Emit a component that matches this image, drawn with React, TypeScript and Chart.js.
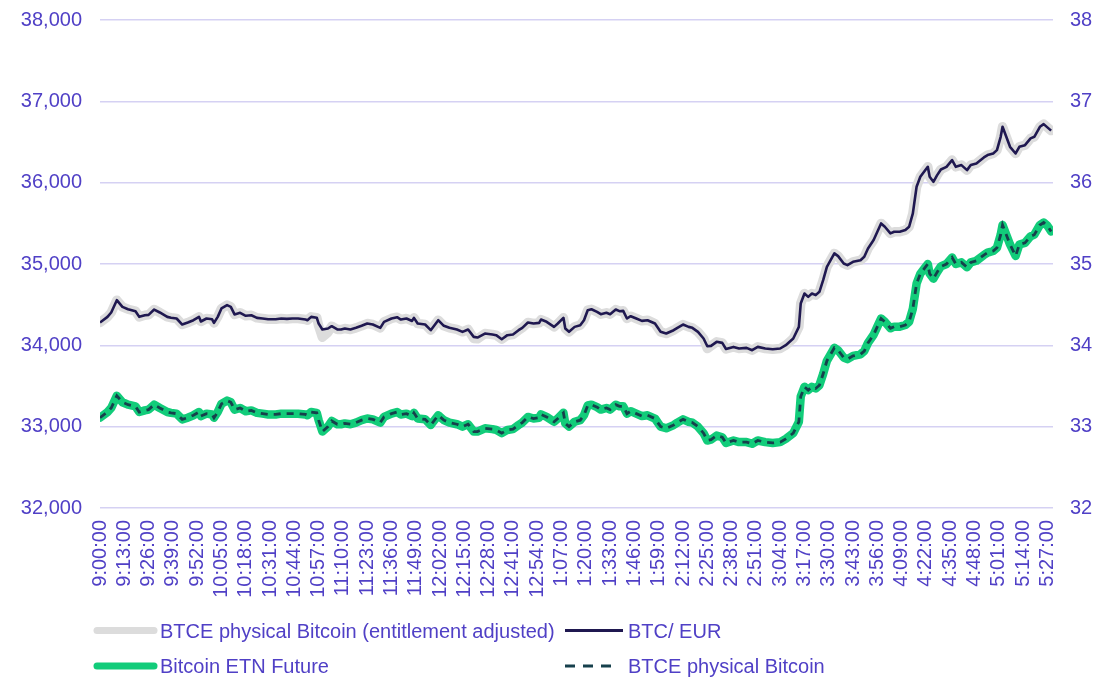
import React, { useEffect, useRef } from "react";
import { Chart, registerables } from "chart.js";

Chart.register(...registerables);

// X axis tick labels (every 13 minutes from 9:00)
const timeLabels = [
  "9:00:00", "9:13:00", "9:26:00", "9:39:00", "9:52:00", "10:05:00", "10:18:00", "10:31:00",
  "10:44:00", "10:57:00", "11:10:00", "11:23:00", "11:36:00", "11:49:00", "12:02:00", "12:15:00",
  "12:28:00", "12:41:00", "12:54:00", "1:07:00", "1:20:00", "1:33:00", "1:46:00", "1:59:00",
  "2:12:00", "2:25:00", "2:38:00", "2:51:00", "3:04:00", "3:17:00", "3:30:00", "3:43:00",
  "3:56:00", "4:09:00", "4:22:00", "4:35:00", "4:48:00", "5:01:00", "5:14:00", "5:27:00",
];
const tickMinutes = [
  0, 13, 26, 39, 52, 65, 78, 91, 104, 117, 130, 143, 156, 169, 182, 195, 208, 221, 234, 247,
  260, 273, 286, 299, 312, 325, 338, 351, 364, 377, 390, 403, 416, 429, 442, 455, 468, 481, 494, 507,
];

// Sample times (minutes after 9:00)
const sampleMinutes = [
  0, 4, 6, 9, 12, 15, 19, 21, 24, 26, 29, 32, 36, 38, 41, 44, 47, 50, 53, 54,
  57, 60, 61, 63, 65, 68, 70, 72, 75, 78, 81, 84, 87, 90, 94, 97, 100, 103, 106, 110,
  111, 113, 116, 117, 119, 122, 124, 127, 129, 131, 134, 137, 140, 143, 146, 150, 152, 156, 159, 161,
  164, 167, 168, 170, 174, 177, 181, 184, 187, 191, 194, 197, 200, 202, 206, 210, 212, 215, 218, 221,
  224, 226, 229, 232, 235, 236, 239, 243, 245, 248, 249, 251, 254, 257, 259, 261, 263, 266, 268, 271,
  273, 276, 278, 280, 282, 284, 287, 290, 293, 297, 300, 303, 307, 309, 312, 315, 317, 320, 323, 325,
  327, 330, 333, 335, 339, 342, 346, 349, 352, 356, 360, 364, 367, 371, 374, 375, 377, 379, 381, 383,
  385, 387, 389, 391, 393, 395, 398, 400, 403, 407, 409, 411, 414, 416, 418, 420, 423, 425, 428, 431,
  433, 435, 437, 439, 441, 443, 444, 446, 448, 450, 453, 456, 458, 461, 464, 466, 469, 473, 475, 478,
  480, 482, 483, 485, 487, 490, 492, 495, 498, 500, 503, 505, 507, 509,
];

// BTC/ EUR (left axis)
const btcEur = [
  34280, 34350, 34404, 34555, 34473, 34444, 34420, 34350, 34370, 34375, 34440, 34404, 34350, 34340, 34330, 34256, 34280, 34309, 34350, 34293,
  34330, 34320, 34276, 34350, 34453, 34494, 34473, 34380, 34400, 34363, 34370, 34338, 34330, 34320, 34320, 34330, 34325, 34330, 34330, 34317,
  34309, 34350, 34340, 34268, 34195, 34207, 34235, 34195, 34195, 34207, 34195, 34215, 34240, 34268, 34256, 34215, 34289, 34330, 34346, 34317,
  34330, 34300, 34338, 34268, 34256, 34186, 34309, 34240, 34215, 34195, 34166, 34195, 34104, 34096, 34145, 34133, 34125, 34075, 34125, 34133,
  34186, 34215, 34281, 34268, 34276, 34317, 34289, 34227, 34268, 34338, 34207, 34166, 34227, 34248, 34309, 34432, 34444, 34412, 34383, 34400,
  34383, 34440, 34420, 34424, 34330, 34358, 34330, 34301, 34309, 34268, 34166, 34145, 34186, 34215, 34256, 34227, 34215, 34166, 34084, 33989,
  33993, 34043, 34030, 33955, 33981, 33961, 33969, 33940, 33981, 33961, 33952, 33961, 34002, 34084, 34227, 34514, 34637, 34596, 34637, 34617,
  34658, 34801, 34965, 35047, 35130, 35097, 35006, 34986, 35027, 35047, 35088, 35191, 35294, 35396, 35499, 35458, 35376, 35396, 35396, 35417,
  35458, 35622, 35950, 36072, 36134, 36195, 36072, 36011, 36093, 36162, 36195, 36278, 36195, 36216, 36154, 36216, 36236, 36310, 36339, 36359,
  36400, 36564, 36687, 36564, 36441, 36359, 36441, 36461, 36544, 36564, 36687, 36720, 36680, 36640,
];

// BTCE physical Bitcoin (entitlement adjusted) (left axis)
const btceAdjusted = [
  34280, 34350, 34404, 34555, 34473, 34444, 34420, 34350, 34370, 34375, 34440, 34404, 34350, 34340, 34330, 34256, 34280, 34309, 34350, 34293,
  34330, 34320, 34276, 34350, 34453, 34494, 34473, 34380, 34400, 34363, 34370, 34338, 34330, 34320, 34320, 34330, 34325, 34330, 34330, 34317,
  34309, 34350, 34340, 34240, 34100, 34160, 34235, 34195, 34195, 34207, 34195, 34215, 34240, 34268, 34256, 34215, 34289, 34330, 34346, 34317,
  34330, 34300, 34338, 34268, 34256, 34186, 34309, 34240, 34215, 34195, 34166, 34195, 34085, 34080, 34145, 34133, 34125, 34075, 34125, 34133,
  34186, 34215, 34281, 34268, 34276, 34317, 34289, 34227, 34268, 34338, 34207, 34166, 34227, 34248, 34309, 34432, 34444, 34412, 34383, 34400,
  34383, 34440, 34420, 34424, 34330, 34358, 34330, 34301, 34309, 34268, 34166, 34145, 34186, 34215, 34256, 34227, 34215, 34166, 34084, 33960,
  33993, 34043, 34030, 33955, 33981, 33961, 33969, 33940, 33981, 33961, 33952, 33961, 34002, 34084, 34227, 34514, 34637, 34596, 34637, 34617,
  34658, 34801, 34965, 35047, 35130, 35097, 35006, 34986, 35027, 35047, 35088, 35191, 35294, 35396, 35499, 35458, 35376, 35396, 35396, 35417,
  35458, 35622, 35950, 36072, 36134, 36195, 36072, 36011, 36093, 36162, 36195, 36278, 36195, 36216, 36154, 36216, 36236, 36310, 36339, 36359,
  36400, 36564, 36687, 36564, 36441, 36359, 36441, 36461, 36544, 36564, 36687, 36720, 36680, 36640,
];

// Bitcoin ETN Future (right axis, thousands)
const etnFuture = [
  33.11, 33.18, 33.23, 33.38, 33.30, 33.27, 33.25, 33.18, 33.20, 33.21, 33.27, 33.23, 33.18, 33.17, 33.16, 33.09, 33.11, 33.14, 33.18, 33.13,
  33.16, 33.15, 33.11, 33.18, 33.28, 33.32, 33.30, 33.21, 33.23, 33.19, 33.20, 33.17, 33.16, 33.15, 33.15, 33.16, 33.16, 33.16, 33.16, 33.15,
  33.14, 33.18, 33.17, 33.08, 32.94, 33.00, 33.07, 33.03, 33.03, 33.04, 33.03, 33.05, 33.08, 33.10, 33.09, 33.05, 33.12, 33.16, 33.18, 33.15,
  33.16, 33.13, 33.17, 33.10, 33.09, 33.02, 33.14, 33.08, 33.05, 33.03, 33.00, 33.03, 32.94, 32.94, 32.98, 32.97, 32.96, 32.92, 32.96, 32.97,
  33.02, 33.05, 33.12, 33.10, 33.11, 33.15, 33.12, 33.06, 33.10, 33.17, 33.04, 33.00, 33.06, 33.08, 33.14, 33.26, 33.27, 33.24, 33.21, 33.23,
  33.21, 33.27, 33.25, 33.25, 33.16, 33.19, 33.16, 33.13, 33.14, 33.10, 33.00, 32.98, 33.02, 33.05, 33.09, 33.06, 33.05, 33.00, 32.92, 32.83,
  32.84, 32.89, 32.87, 32.80, 32.83, 32.81, 32.81, 32.79, 32.83, 32.81, 32.80, 32.81, 32.85, 32.92, 33.06, 33.37, 33.49, 33.45, 33.49, 33.47,
  33.51, 33.65, 33.81, 33.89, 33.97, 33.94, 33.85, 33.83, 33.87, 33.89, 33.93, 34.03, 34.13, 34.23, 34.33, 34.29, 34.21, 34.23, 34.23, 34.25,
  34.29, 34.45, 34.76, 34.88, 34.94, 35.00, 34.88, 34.82, 34.90, 34.97, 35.00, 35.08, 35.00, 35.02, 34.96, 35.02, 35.04, 35.11, 35.14, 35.16,
  35.20, 35.36, 35.48, 35.36, 35.24, 35.10, 35.24, 35.26, 35.34, 35.36, 35.48, 35.51, 35.47, 35.40,
];

// BTCE physical Bitcoin (right axis, thousands) — drawn on top of the ETN line
const btcePhysical = [...etnFuture];

const leftTicks = { min: 32000, max: 38000, step: 1000 };
const rightTicks = { min: 32, max: 38, step: 1 };

const FONT = '"Liberation Sans", Arial, Helvetica, sans-serif';
const TEXT_COLOR = "#5040c6";
const GRID_COLOR = "#d5d1f3";

const COLORS = {
  gray: "#dcdcdc",
  navy: "#1f1850",
  green: "#12cc7a",
  dashed: "#16404c",
};

const legendItems = [
  { label: "BTCE physical Bitcoin (entitlement adjusted)", color: COLORS.gray, width: 7, dash: [] as number[], cap: "round", x0: 89, x1: 146, tx: 152, ly: 622.5, ty: 629.5 },
  { label: "BTC/ EUR", color: COLORS.navy, width: 3, dash: [] as number[], cap: "butt", x0: 557, x1: 615, tx: 620, ly: 622.5, ty: 629.5 },
  { label: "Bitcoin ETN Future", color: COLORS.green, width: 7, dash: [] as number[], cap: "round", x0: 89, x1: 146, tx: 152, ly: 658, ty: 665 },
  { label: "BTCE physical Bitcoin", color: COLORS.dashed, width: 3, dash: [10, 8], cap: "butt", x0: 557, x1: 607, tx: 620, ly: 658, ty: 665 },
];

const legendPlugin = {
  id: "customLegend",
  afterDraw(chart: any) {
    const ctx = chart.ctx as CanvasRenderingContext2D;
    ctx.save();
    for (const it of legendItems) {
      ctx.beginPath();
      ctx.strokeStyle = it.color;
      ctx.lineWidth = it.width;
      ctx.lineCap = it.cap as CanvasLineCap;
      ctx.setLineDash(it.dash);
      ctx.moveTo(it.x0, it.ly);
      ctx.lineTo(it.x1, it.ly);
      ctx.stroke();
      ctx.setLineDash([]);
      ctx.fillStyle = TEXT_COLOR;
      ctx.font = `20px ${FONT}`;
      ctx.textAlign = "left";
      ctx.textBaseline = "alphabetic";
      ctx.fillText(it.label, it.tx, it.ty);
    }
    ctx.restore();
  },
};

function toPoints(xs: number[], ys: number[]) {
  return xs.map((x, i) => ({ x, y: ys[i] }));
}

export default function App() {
  const canvasRef = useRef<HTMLCanvasElement | null>(null);

  useEffect(() => {
    if (!canvasRef.current) return;
    const chart = new Chart(canvasRef.current, {
      type: "line",
      data: {
        datasets: [
          {
            label: "BTC/ EUR",
            data: toPoints(sampleMinutes, btcEur),
            yAxisID: "y",
            borderColor: COLORS.navy,
            borderWidth: 2.6,
            pointRadius: 0,
            tension: 0,
            order: 0,
            borderJoinStyle: "round",
          },
          {
            label: "BTCE physical Bitcoin",
            data: toPoints(sampleMinutes, btcePhysical),
            yAxisID: "y1",
            borderColor: COLORS.dashed,
            borderWidth: 2.8,
            borderDash: [7, 6],
            pointRadius: 0,
            tension: 0,
            order: 1,
          },
          {
            label: "Bitcoin ETN Future",
            data: toPoints(sampleMinutes, etnFuture),
            yAxisID: "y1",
            borderColor: COLORS.green,
            borderWidth: 8.5,
            pointRadius: 0,
            tension: 0,
            order: 2,
            borderJoinStyle: "round",
            borderCapStyle: "round",
          },
          {
            label: "BTCE physical Bitcoin (entitlement adjusted)",
            data: toPoints(sampleMinutes, btceAdjusted),
            yAxisID: "y",
            borderColor: COLORS.gray,
            borderWidth: 9.5,
            pointRadius: 0,
            tension: 0,
            order: 3,
            borderJoinStyle: "round",
            borderCapStyle: "round",
          },
        ],
      },
      options: {
        animation: false,
        responsive: false,
        maintainAspectRatio: false,
        layout: { padding: { top: 12, bottom: 69, left: 0, right: 0 } },
        plugins: {
          legend: { display: false },
          tooltip: { enabled: false },
        },
        scales: {
          x: {
            type: "linear",
            min: 0,
            max: 510,
            grid: { display: false, drawTicks: false },
            border: { display: false },
            afterBuildTicks: (scale: any) => {
              scale.ticks = tickMinutes.map((v) => ({ value: v }));
            },
            afterFit: (scale: any) => {
              scale.height = 100;
              scale.paddingLeft = 0;
              scale.paddingRight = 0;
            },
            ticks: {
              autoSkip: false,
              minRotation: 90,
              maxRotation: 90,
              padding: 12,
              color: TEXT_COLOR,
              font: { family: FONT, size: 20 },
              callback: (_v: any, i: number) => timeLabels[i],
            },
          },
          y: {
            type: "linear",
            position: "left",
            min: leftTicks.min,
            max: leftTicks.max,
            grid: { color: GRID_COLOR, lineWidth: 1.6, drawTicks: false },
            border: { display: false },
            afterFit: (scale: any) => {
              scale.width = 92;
              scale.paddingTop = 0;
              scale.paddingBottom = 0;
            },
            ticks: {
              stepSize: leftTicks.step,
              padding: 18,
              color: TEXT_COLOR,
              font: { family: FONT, size: 20 },
              callback: (v: any) => Number(v).toLocaleString("en-US"),
            },
          },
          y1: {
            type: "linear",
            position: "right",
            min: rightTicks.min,
            max: rightTicks.max,
            grid: { display: false, drawTicks: false },
            border: { display: false },
            afterFit: (scale: any) => {
              scale.width = 47;
              scale.paddingTop = 0;
              scale.paddingBottom = 0;
            },
            ticks: {
              stepSize: rightTicks.step,
              padding: 17,
              color: TEXT_COLOR,
              font: { family: FONT, size: 20 },
            },
          },
        },
      },
      plugins: [legendPlugin],
    });
    return () => chart.destroy();
  }, []);

  return (
    <div style={{ width: 1092, height: 669 }}>
      <canvas ref={canvasRef} width={1092} height={669} style={{ display: "block" }} />
    </div>
  );
}
